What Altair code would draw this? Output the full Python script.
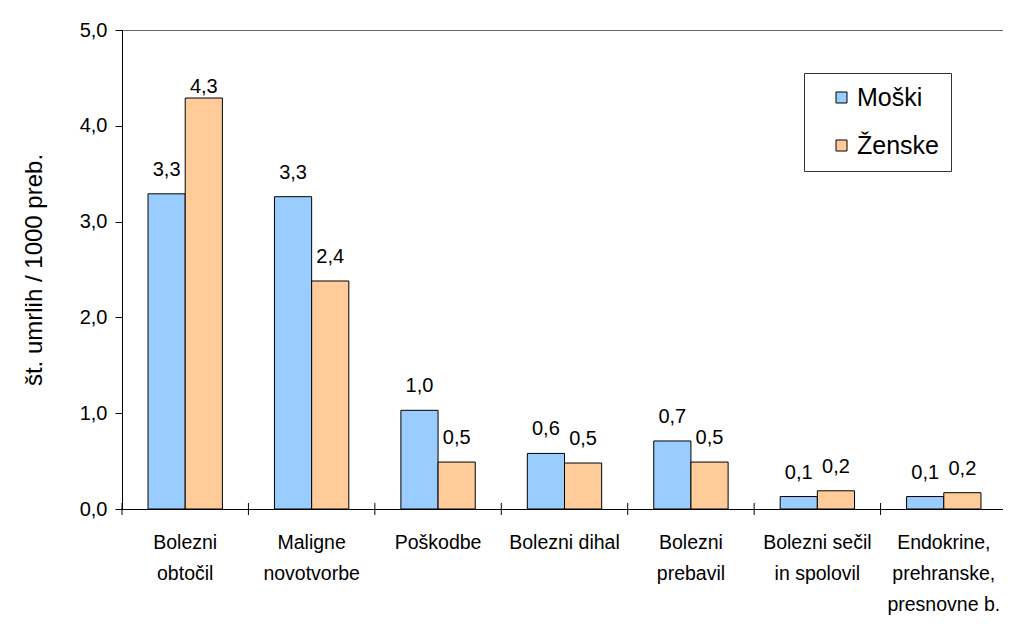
import altair as alt
import pandas as pd

categories = [
    "Bolezni\nobtočil",
    "Maligne\nnovotvorbe",
    "Poškodbe",
    "Bolezni dihal",
    "Bolezni\nprebavil",
    "Bolezni sečil\nin spolovil",
    "Endokrine,\nprehranske,\npresnovne b.",
]
series = ["Moški", "Ženske"]
moski = [3.29, 3.26, 1.03, 0.58, 0.71, 0.13, 0.13]
zenske = [4.29, 2.38, 0.49, 0.48, 0.49, 0.19, 0.17]
colors = ["#99CCFF", "#FFCC99"]
y_ticks = [0, 1, 2, 3, 4, 5]
y_title = "št. umrlih / 1000 preb."

df = pd.DataFrame({
    "cat": categories * 2,
    "series": [series[0]] * len(categories) + [series[1]] * len(categories),
    "value": moski + zenske,
})
cats_df = pd.DataFrame({"cat": categories})

W = 881          # visible view width (page must not overflow)
XR = 885         # band range for the 7 categories
H = 479
FONT = "Liberation Sans"

x_enc = alt.X(
    "cat:N", sort=categories,
    scale=alt.Scale(paddingInner=0, paddingOuter=0, range=[0, XR]),
    axis=alt.Axis(
        title=None, labelExpr="split(datum.label, '\\n')", labelFontSize=19.5,
        labelLineHeight=31, labelPadding=24, labelBaseline="top", labelAngle=0,
        ticks=False, tickSize=0, domainColor="#000", labelColor="#000",
        labelFont=FONT, labelLimit=300,
    ),
)
xoff = alt.XOffset("series:N", sort=series, scale=alt.Scale(paddingInner=0, paddingOuter=0.7))
y_scale = alt.Scale(domain=[0, 5], nice=False)
y_axis = alt.Axis(
    values=y_ticks, labelExpr="replace(format(datum.value, '.1f'), '.', ',')",
    labelFontSize=20, labelFont=FONT, labelColor="#000", tickSize=7, labelPadding=8,
    domainColor="#000", tickColor="#000", grid=False,
    title=y_title, titleFontSize=24, titleFont=FONT, titleFontWeight="normal",
    titleColor="#000", titleX=-88, titleY=H / 2, titleAngle=-90,
    titleBaseline="middle", titleAlign="center",
)

bars = alt.Chart(df).mark_bar(stroke="#000", strokeWidth=1).encode(
    x=x_enc,
    xOffset=xoff,
    y=alt.Y("value:Q", scale=y_scale, axis=y_axis, title=y_title),
    color=alt.Color("series:N", sort=series, scale=alt.Scale(domain=series, range=colors),
                    legend=alt.Legend(
                        orient="none", legendX=682, legendY=43, title=None,
                        labelFontSize=25, labelFont=FONT, labelColor="#000",
                        labelExpr="datum.label + '\u00a0'",
                        symbolType="square", symbolSize=121, symbolStrokeColor="#000",
                        symbolStrokeWidth=1, padding=12, symbolOffset=13, rowPadding=22,
                        strokeColor="#333", fillColor="#fff", labelOffset=3,
                    )),
)

labels = alt.Chart(df).transform_calculate(
    ly="min(datum.value, 4.15)",
    lbl="replace(format(datum.value, '.1f'), '.', ',')",
).mark_text(dy=-18, fontSize=20, font=FONT, baseline="alphabetic", align="center", color="#000").encode(
    x=alt.X("cat:N", sort=categories),
    xOffset=alt.XOffset("series:N", sort=series),
    y=alt.Y("ly:Q", scale=y_scale, axis=y_axis, title=y_title),
    text="lbl:N",
)

ticks = alt.Chart(cats_df).mark_rule(color="#000", strokeWidth=1).encode(
    x=alt.X("cat:N", sort=categories, bandPosition=0),
    y=alt.value(H - 6),
    y2=alt.value(H + 6),
)

chart = alt.layer(bars, labels, ticks).properties(
    width=W, height=H,
    autosize=alt.AutoSizeParams(type="none"),
    padding={"left": 114, "top": 22, "right": 0, "bottom": 107},
    background="#ffffff",
).configure_view(stroke="#666", strokeWidth=1)

chart.save("out.html", embed_options={"renderer": "svg", "actions": False})
